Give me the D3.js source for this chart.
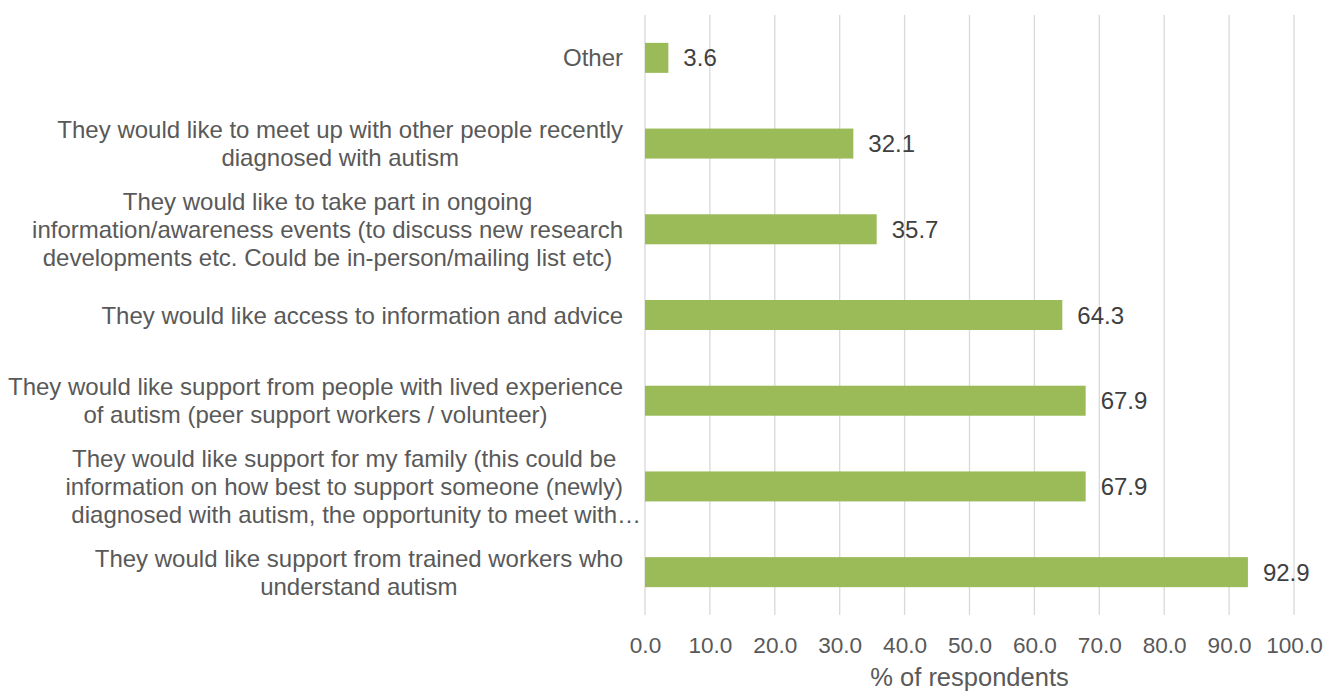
<!DOCTYPE html>
<html>
<head>
<meta charset="utf-8">
<script src="https://cdn.jsdelivr.net/npm/d3@7"></script>
<style>
  body { margin: 0; background: #fff; }
  svg { display: block; font-family: "Liberation Sans", Arial, sans-serif; }
</style>
</head>
<body>
<svg id="chart" width="1325" height="693"></svg>
<script>
// Survey responses, listed top to bottom as shown
const categories = [
  ["Other"],
  ["They would like to meet up with other people recently", "diagnosed with autism"],
  ["They would like to take part in ongoing", "information/awareness events (to discuss new research", "developments etc. Could be in-person/mailing list etc)"],
  ["They would like access to information and advice"],
  ["They would like support from people with lived experience", "of autism (peer support workers / volunteer)"],
  ["They would like support for my family (this could be", "information on how best to support someone (newly)", "diagnosed with autism, the opportunity to meet with\u2026"],
  ["They would like support from trained workers who", "understand autism"]
];
const values = [3.6, 32.1, 35.7, 64.3, 67.9, 67.9, 92.9];
const xTicks = [0, 10, 20, 30, 40, 50, 60, 70, 80, 90, 100];
const xTitle = "% of respondents";

const svg = d3.select("#chart");
const labelSize = 24;
const tickSize = 22.6;
const titleSize = 25.5;
const textColor = "#595959";

const x = d3.scaleLinear().domain([0, 100]).range([645, 1294]);
const y = d3.scaleBand().domain(d3.range(categories.length)).range([15, 615]).paddingInner(0.65).paddingOuter(0.325);

// vertical gridlines
svg.append("g").selectAll("line").data(xTicks).join("line")
  .attr("x1", d => x(d)).attr("x2", d => x(d))
  .attr("y1", 15).attr("y2", 615)
  .attr("stroke", "#d9d9d9").attr("stroke-width", 1.3);

// x tick labels
const xAxis = d3.axisBottom(x).tickValues(xTicks).tickFormat(d3.format(".1f")).tickSize(0).tickPadding(0);
const gx = svg.append("g").attr("transform", "translate(0,635)").call(xAxis);
gx.select(".domain").remove();
gx.selectAll("text").attr("font-size", tickSize).attr("fill", textColor)
  .attr("font-family", "Liberation Sans, Arial, sans-serif").attr("dy", "0.8em");

// axis title
svg.append("text").attr("x", x(50)).attr("y", 686).attr("text-anchor", "middle")
  .attr("font-size", titleSize).attr("fill", textColor).text(xTitle);

// bars
svg.append("g").selectAll("rect").data(values).join("rect")
  .attr("x", x(0)).attr("y", (d, i) => y(i))
  .attr("width", d => x(d) - x(0)).attr("height", y.bandwidth())
  .attr("fill", "#9bbb59");

// value labels
svg.append("g").selectAll("text").data(values).join("text")
  .attr("x", d => x(d) + 15).attr("y", (d, i) => y(i) + y.bandwidth() / 2)
  .attr("dy", "0.36em").attr("font-size", labelSize).attr("fill", "#404040")
  .text(d => d3.format(".1f")(d));

// category labels: each block centred on its own lines, right edge near the plot
const lineH = 28;
const labelRight = 623;
categories.forEach((lines, i) => {
  const cy = y(i) + y.bandwidth() / 2;
  const g = svg.append("g");
  const texts = lines.map((ln, j) => g.append("text")
    .attr("font-size", labelSize).attr("fill", textColor)
    .attr("y", cy + (j - (lines.length - 1) / 2) * lineH)
    .attr("dy", "0.36em").text(ln));
  const widths = texts.map(t => t.node().getComputedTextLength());
  const truncated = lines[lines.length - 1].endsWith("\u2026");
  const ref = truncated ? Math.max(...widths.slice(0, -1)) : Math.max(...widths);
  const cx = labelRight - ref / 2;
  texts.forEach((t, j) => {
    // a clipped last line spills a little past the label column
    const shift = truncated && j === lines.length - 1 ? 12 : 0;
    t.attr("x", cx + shift).attr("text-anchor", "middle");
  });
});
</script>
</body>
</html>
